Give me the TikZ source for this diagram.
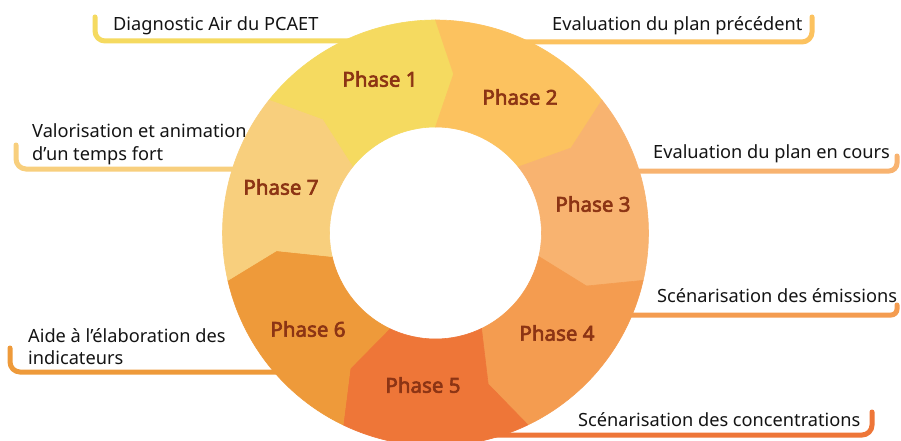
\documentclass[tikz,border=0pt]{standalone}
\usepackage{fontspec}
\setmainfont{Noto Sans}[AutoFakeBold=3]
\definecolor{p1}{RGB}{245,218,96}
\definecolor{p2}{RGB}{252,194,95}
\definecolor{p3}{RGB}{248,179,112}
\definecolor{p4}{RGB}{244,156,80}
\definecolor{p5}{RGB}{238,118,56}
\definecolor{p6}{RGB}{238,154,58}
\definecolor{p7}{RGB}{248,207,125}
\definecolor{phtext}{RGB}{140,52,20}
\definecolor{lbltext}{RGB}{20,20,20}
\begin{document}
\begin{tikzpicture}[x=1pt,y=-1pt,
  conn/.style={line width=5pt, line cap=round, rounded corners=10pt},
  lbl/.style={anchor=base west, inner sep=0pt, font=\fontsize{18.2}{22}\selectfont, text=lbltext, align=left},
  ph/.style={font=\fontsize{20.5}{24}\selectfont\bfseries, text=phtext, inner sep=0pt}]
\fill[white] (0,0) rectangle (901,441);
\useasboundingbox (0,0) rectangle (901,441);
% connector end points
\coordinate (s1) at (350,41);  \coordinate (e1) at (95,17);
\coordinate (s2) at (520,42);  \coordinate (e2) at (812,17);
\coordinate (s3) at (630,171); \coordinate (e3) at (897,156);
\coordinate (s4) at (625,315); \coordinate (e4) at (897,305);
\coordinate (s5) at (495,435); \coordinate (e5) at (872,412);
\coordinate (s6) at (285,372); \coordinate (e6) at (10,348);
\coordinate (s7) at (240,169); \coordinate (e7) at (16,145);
\draw[conn,p1] (s1) -| (e1);
\draw[conn,p2] (s2) -| (e2);
\draw[conn,p3,rounded corners=8pt] (s3) -| (e3);
\draw[conn,p4,rounded corners=6pt] (s4) -| (e4);
\draw[conn,p5] (s5) -| (e5);
\draw[conn,p6] (s6) -| (e6);
\draw[conn,p7] (s7) -| (e7);
% ring
\begin{scope}[shift={(435.5,233)}, yscale=-1]
\foreach \i/\c in {1/p1,2/p2,3/p3,4/p4,5/p5,6/p6,7/p7}{
  \pgfmathsetmacro\s{141.4286-51.4286*(\i-1)}
  \pgfmathsetmacro\e{\s-51.4286}
  \pgfmathsetmacro\sk{\s-6.5}
  \pgfmathsetmacro\ek{\e-6.5}
  \fill[\c, draw=\c, line width=0.6pt, line join=round]
    (\s:213) arc[start angle=\s, end angle=\e, radius=213]
    -- (\ek:160) -- (\e:106)
    arc[start angle=\e, end angle=\s, radius=106]
    -- (\sk:160) -- cycle;
}
\end{scope}
% phase labels
\node[ph] (ph1) at (380,79) {Phase 1};
\node[ph] (ph2) at (520,97) {Phase 2};
\node[ph] (ph3) at (593,204) {Phase 3};
\node[ph] (ph4) at (557,333) {Phase 4};
\node[ph] (ph5) at (423,385) {Phase 5};
\node[ph] (ph6) at (308,329) {Phase 6};
\node[ph] (ph7) at (281,187) {Phase 7};
% texts
\node[lbl] (t1) at (113,31) {Diagnostic Air du PCAET};
\node[lbl] (t2) at (552,31) {Evaluation du plan précédent};
\node[lbl] (t3) at (653,158) {Evaluation du plan en cours};
\node[lbl] (t4) at (657,302) {Scénarisation des émissions};
\node[lbl] (t5) at (578,426) {Scénarisation des concentrations};
\node[lbl] (t6a) at (28,342) {Aide à l’élaboration des};
\node[lbl] (t6b) at (28,364) {indicateurs};
\node[lbl] (t7a) at (32,137) {Valorisation et animation};
\node[lbl] (t7b) at (32,160) {d’un temps fort};
\end{tikzpicture}
\end{document}
